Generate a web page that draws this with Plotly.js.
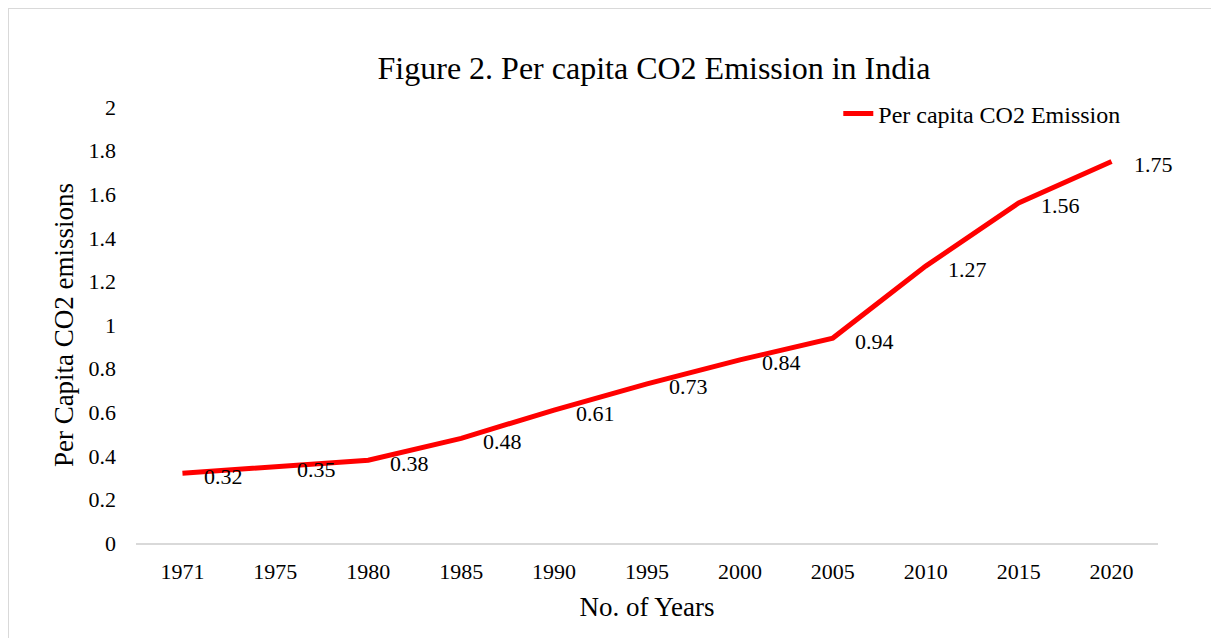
<!DOCTYPE html>
<html>
<head>
<meta charset="utf-8">
<script src="https://cdn.plot.ly/plotly-3.0.1.min.js"></script>
<style>
html,body{margin:0;padding:0;background:#fff;overflow:hidden;}
#chart{width:1211px;height:638px;}
#frame{position:absolute;left:8px;top:8px;width:1220px;height:660px;border:1.5px solid #d9d9d9;pointer-events:none;}
</style>
</head>
<body>
<div id="chart"></div>
<div id="frame"></div>
<script>
const years = ["1971","1975","1980","1985","1990","1995","2000","2005","2010","2015","2020"];
const emissions = [0.32,0.35,0.38,0.48,0.61,0.73,0.84,0.94,1.27,1.56,1.75];
const yTicks = [0,0.2,0.4,0.6,0.8,1,1.2,1.4,1.6,1.8,2];
const seriesName = "Per capita CO2 Emission";

const font = "Liberation Serif, Times New Roman, serif";

const trace = {
  x: years, y: emissions, type: "scatter", mode: "lines",
  name: seriesName,
  line: {color: "#ff0000", width: 5}
};

// category axis: annotations use category index
const annotations = years.map((yr, i) => ({
  x: i, y: emissions[i], xref: "x", yref: "y",
  text: String(emissions[i]), showarrow: false,
  xanchor: "left", yanchor: "middle", xshift: 20, yshift: -3,
  font: {family: font, size: 22, color: "#000"}
}));

const layout = {
  width: 1211, height: 638,
  margin: {l: 136, r: 53, t: 107, b: 95},
  paper_bgcolor: "#fff", plot_bgcolor: "#fff",
  font: {family: font, color: "#000"},
  title: {text: "Figure 2. Per capita CO2 Emission in India", font: {family: font, size: 32, color: "#000"}, x: 0.54, xanchor: "center", y: 0.894, yanchor: "middle"},
  xaxis: {
    type: "category", range: [-0.5, years.length - 0.5],
    showgrid: false, zeroline: false,
    showline: true, linecolor: "#d9d9d9", linewidth: 2,
    ticks: "", ticklabelstandoff: 8,
    tickfont: {family: font, size: 22, color: "#000"},
    title: {text: "No. of Years", font: {family: font, size: 27, color: "#000"}, standoff: 14}
  },
  yaxis: {
    range: [0, 2], tickvals: yTicks, ticktext: yTicks.map(String),
    showgrid: false, zeroline: false, showline: false, ticks: "",
    ticklabelstandoff: 19,
    tickfont: {family: font, size: 22, color: "#000"},
    title: {text: "Per Capita CO2 emissions", font: {family: font, size: 27, color: "#000"}, standoff: 7}
  },
  showlegend: true,
  legend: {x: 0.968, xanchor: "right", y: 0.984, yanchor: "middle", bgcolor: "rgba(0,0,0,0)", font: {family: font, size: 24, color: "#000"}},
  annotations: annotations
};

Plotly.newPlot("chart", [trace], layout, {displayModeBar: false, staticPlot: true});
</script>
</body>
</html>
